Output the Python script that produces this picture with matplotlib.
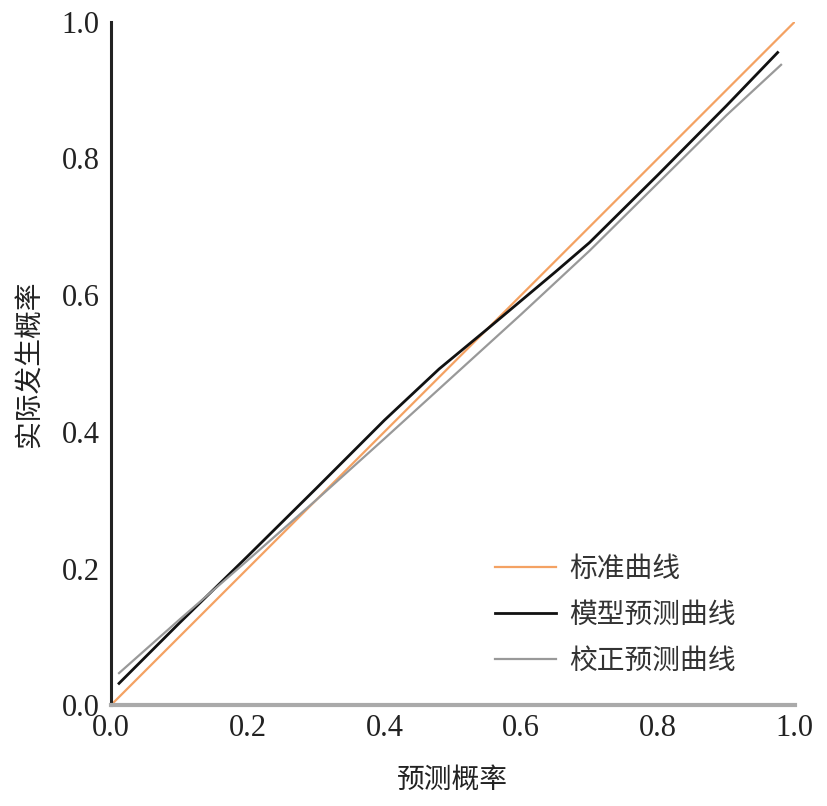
import matplotlib
matplotlib.use("Agg")
import matplotlib.pyplot as plt

# data
ideal_x = [0.0, 1.0]
ideal_y = [0.0, 1.0]

model_x = [0.012, 0.1, 0.2, 0.3, 0.4, 0.48, 0.55, 0.6, 0.65, 0.7, 0.8, 0.9, 0.975]
model_y = [0.032, 0.12, 0.218, 0.317, 0.417, 0.492, 0.55, 0.592, 0.634, 0.677, 0.776, 0.877, 0.955]

calib_x = [0.012, 0.1, 0.2, 0.3, 0.4, 0.5, 0.6, 0.7, 0.8, 0.9, 0.98]
calib_y = [0.047, 0.125, 0.212, 0.30, 0.39, 0.481, 0.572, 0.665, 0.764, 0.863, 0.937]

labels = ["标准曲线", "模型预测曲线", "校正预测曲线"]
ticks = [0.0, 0.2, 0.4, 0.6, 0.8, 1.0]

cjk = ["Noto Sans CJK SC", "DejaVu Sans"]
serif = "Liberation Serif"

fig = plt.figure(figsize=(8.27, 8.06), dpi=100)
ax = fig.add_axes([0.134, 0.125, 0.827, 0.848])

ax.plot(ideal_x, ideal_y, color="#f4a263", lw=1.6, label=labels[0], zorder=2)
ax.plot(model_x, model_y, color="#111111", lw=2.0, label=labels[1], zorder=3)
ax.plot(calib_x, calib_y, color="#999999", lw=1.6, label=labels[2], zorder=3)

ax.set_xlim(0, 1.0)
ax.set_ylim(0, 1.0)
ax.set_xticks(ticks)
ax.set_yticks(ticks)
ax.set_xticklabels([f"{t:.1f}" for t in ticks], fontfamily=serif, fontsize=22)
ax.set_yticklabels([f"{t:.1f}" for t in ticks], fontfamily=serif, fontsize=22)
ax.tick_params(axis="both", length=0, colors="#222222")
ax.tick_params(axis="x", pad=6)
ax.tick_params(axis="y", pad=8)

for s in ["top", "right"]:
    ax.spines[s].set_visible(False)
ax.spines["left"].set_color("#222222")
ax.spines["left"].set_linewidth(2.2)
ax.spines["bottom"].set_color("#aaaaaa")
ax.spines["bottom"].set_linewidth(3)

ax.set_xlabel("预测概率", family=cjk, fontsize=20, color="#222222", labelpad=16)
ax.set_ylabel("实际发生概率", family=cjk, fontsize=20, color="#222222", labelpad=12)

leg = ax.legend(loc="upper left", bbox_to_anchor=(0.561, 0.222), frameon=False,
                prop={"family": cjk, "size": 20}, handlelength=2.2,
                handletextpad=0.5, labelspacing=0.58, borderpad=0, borderaxespad=0)
for t in leg.get_texts():
    t.set_color("#333333")

fig.savefig("out.png", dpi=100)
